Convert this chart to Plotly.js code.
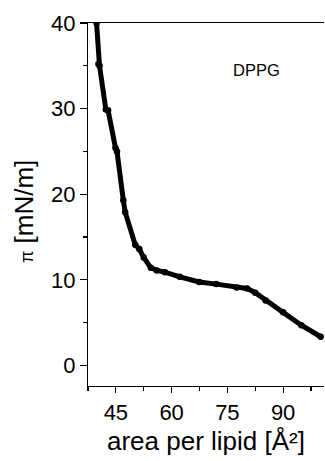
<!DOCTYPE html>
<html>
<head>
<meta charset="utf-8">
<script src="https://cdn.plot.ly/plotly-3.0.1.min.js"></script>
<style>html,body{margin:0;padding:0;background:#fff;}#chart{width:325px;height:461px;}</style>
</head>
<body>
<div id="chart"></div>
<script>
// Area per lipid (Å²) and surface pressure π (mN/m)
const areaPerLipid = [39.8, 40.3, 40.6, 42.3, 42.9, 44.9, 45.3, 47.0, 47.5, 50.2, 51.3, 52.5, 54.4, 56.0, 58.2, 62.2, 67.4, 72.0, 77.5, 80.3, 82.5, 85.3, 90.0, 94.9, 100.1];
const pressure     = [40.0, 35.2, 35.0, 29.9, 29.8, 25.4, 25.0, 19.3, 17.9, 14.1, 13.6, 12.6, 11.4, 11.1, 10.9, 10.35, 9.75, 9.5, 9.1, 9.0, 8.5, 7.6, 6.2, 4.7, 3.35];
const xTickVals = [45, 60, 75, 90];
const yTickVals = [0, 10, 20, 30, 40];
const sampleLabel = 'DPPG';
const xTitle = 'area per lipid [Å²]';
const yTitle = '<span style="font-size:18px">π</span> [mN/m]';

const fontFamily = 'Arial, "Liberation Sans", sans-serif';

const trace = {
  x: areaPerLipid,
  y: pressure,
  type: 'scatter',
  mode: 'lines+markers',
  line: {color: '#000', width: 5},
  marker: {color: '#000', size: 6.5},
  showlegend: false,
  hoverinfo: 'skip'
};

const layout = {
  width: 325,
  height: 461,
  margin: {l: 88, r: 1, t: 23, b: 75},
  paper_bgcolor: '#fff',
  plot_bgcolor: '#fff',
  font: {family: fontFamily, color: '#000'},
  showlegend: false,
  xaxis: {
    range: [37.5, 101],
    tickvals: xTickVals,
    ticktext: xTickVals.map(String),
    ticks: 'outside',
    ticklen: 6,
    tickwidth: 1.2,
    tickcolor: '#000',
    minor: {tickvals: [37.5, 52.5, 67.5, 82.5, 97.5], ticks: 'outside', ticklen: 4, tickwidth: 1.2, tickcolor: '#000'},
    showgrid: false,
    zeroline: false,
    showline: true,
    linecolor: '#000',
    linewidth: 1.2,
    mirror: true,
    tickfont: {size: 22, family: fontFamily, color: '#000'},
    title: {text: xTitle, font: {size: 26, family: fontFamily, color: '#000'}, standoff: 8},
    automargin: false,
    fixedrange: true
  },
  yaxis: {
    range: [-2.4, 40],
    tickvals: yTickVals,
    ticktext: yTickVals.map(String),
    ticks: 'outside',
    ticklen: 7,
    tickwidth: 1.2,
    tickcolor: '#000',
    minor: {tickvals: [5, 15, 25, 35], ticks: 'outside', ticklen: 4, tickwidth: 1.2, tickcolor: '#000'},
    showgrid: false,
    zeroline: false,
    showline: true,
    linecolor: '#000',
    linewidth: 1.2,
    tickfont: {size: 22, family: fontFamily, color: '#000'},
    automargin: false,
    fixedrange: true
  },
  annotations: [{
    xref: 'paper', yref: 'paper',
    x: 0.712, y: 0.870,
    xanchor: 'center', yanchor: 'middle',
    text: sampleLabel,
    showarrow: false,
    font: {size: 16.5, family: fontFamily, color: '#000'}
  }, {
    xref: 'paper', yref: 'paper',
    x: 0, y: 0.479,
    xshift: -64,
    xanchor: 'center', yanchor: 'middle',
    textangle: -90,
    text: yTitle,
    showarrow: false,
    font: {size: 26, family: fontFamily, color: '#000'}
  }]
};

Plotly.newPlot('chart', [trace], layout, {displayModeBar: false, staticPlot: true});
</script>
</body>
</html>
